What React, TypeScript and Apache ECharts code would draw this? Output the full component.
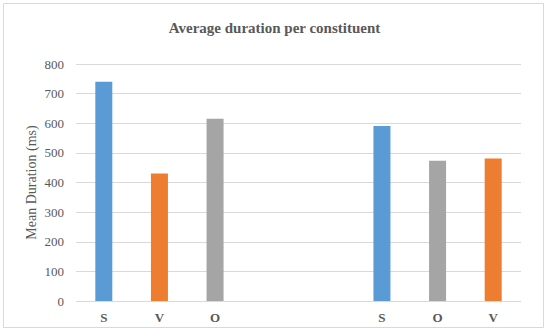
import React, { useEffect, useRef } from "react";
import * as echarts from "echarts";

const categories = ["S", "V", "O", "", "", "S", "O", "V"];
const values: (number | null)[] = [740, 430, 615, null, null, 591, 473, 481];
const yTicks = [0, 100, 200, 300, 400, 500, 600, 700, 800];
const constituentColors: Record<string, string> = { S: "#5b9bd5", V: "#ed7d31", O: "#a5a5a5" };

export default function App() {
  const ref = useRef<HTMLDivElement>(null);
  useEffect(() => {
    document.body.style.margin = "0";
    const chart = echarts.init(ref.current!, null, { renderer: "svg" });
    const font = "'Liberation Serif', 'Times New Roman', serif";
    chart.setOption({
      animation: false,
      backgroundColor: "#ffffff",
      title: {
        text: "Average duration per constituent",
        left: "center",
        top: 15,
        textStyle: { fontFamily: font, fontSize: 15, fontWeight: "bold", color: "#595959" },
      },
      graphic: [
        {
          type: "rect",
          shape: { x: 3.5, y: 3.5, width: 540, height: 324 },
          style: { fill: "none", stroke: "#d9d9d9", lineWidth: 1 },
          silent: true,
        },
      ],
      grid: { left: 76, right: 28, top: 64, bottom: 31 },
      xAxis: {
        type: "category",
        data: categories,
        axisLine: { show: false },
        axisTick: { show: false },
        axisLabel: { fontFamily: font, fontSize: 13, fontWeight: "bold", color: "#595959", margin: 10 },
      },
      yAxis: {
        type: "value",
        min: yTicks[0],
        max: yTicks[yTicks.length - 1],
        interval: 100,
        name: "Mean Duration (ms)",
        nameLocation: "middle",
        nameGap: 38,
        nameMoveOverlap: false,
        nameTextStyle: { fontFamily: font, fontSize: 14, color: "#595959" },
        axisLine: { show: false },
        axisTick: { show: false },
        axisLabel: { fontFamily: font, fontSize: 13, color: "#595959", margin: 12 },
        splitLine: { lineStyle: { color: "#d9d9d9", width: 1 } },
      },
      series: [
        {
          type: "bar",
          barWidth: 17,
          data: values.map((v, i) => ({
            value: v,
            itemStyle: { color: constituentColors[categories[i]] || "#a5a5a5" },
          })),
        },
      ],
    });
    return () => chart.dispose();
  }, []);
  return <div ref={ref} style={{ width: 549, height: 332 }} />;
}
